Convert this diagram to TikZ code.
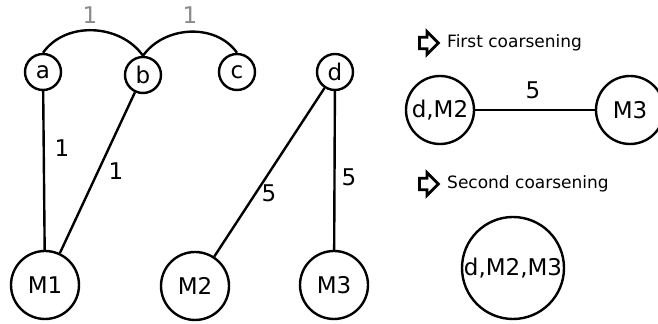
\documentclass[tikz,border=0pt]{standalone}
\usepackage{fontspec}
\setmainfont{DejaVu Sans}
\usetikzlibrary{positioning, shapes.arrows}
\definecolor{weightgray}{HTML}{8A8A8A}
\tikzset{
    vert/.style={draw, circle, line width=1.2pt, inner sep=0pt, minimum size=18pt, font=\fontsize{11.5}{13}\selectfont},
    bigvert/.style={vert, minimum size=34pt},
    hugevert/.style={vert, minimum size=51pt},
    wt/.style={font=\fontsize{11.5}{13}\selectfont},
    hollow arrow/.style={single arrow, draw, line width=1.4pt, inner sep=2.2pt, minimum height=9.5pt, single arrow head extend=2.8pt},
    step label/.style={anchor=west, inner sep=0pt, font=\fontsize{8.5}{10}\selectfont}
}

\begin{document}
\begin{tikzpicture}[x=0.5pt, y=-0.5pt, line width=1.2pt]
            \useasboundingbox (0,0) rectangle (658,324);
            %Nodes
            \node[vert] at (43,72) (a) {a};
            \node[vert] at (143,75) (b) {b};
            \node[vert] at (237,72) (c) {c};
            \node[vert] at (335,72) (d) {d};
            \node[bigvert] at (45,285) (M1) {M1};
            \node[bigvert] at (195,286) (M2) {M2};
            \node[bigvert] at (334,285) (M3) {M3};

            \node[hollow arrow] at (426,43) (firstarrow) {};
            \node[step label] at (446,43) (first) {First coarsening};
            \node[bigvert] at (440,110) (dM2) {d,M2};
            \node[bigvert] at (630,110) (M3b) {M3};
            \node[hollow arrow] at (426,184) (secondarrow) {};
            \node[step label] at (446,184) (second) {Second coarsening};
            \node[hugevert] at (513,268) (dM2M3) {d,M2,M3};

            %Weights
            \node[wt, text=weightgray] at (90,15) (wab) {1};
            \node[wt, text=weightgray] at (190,15) (wbc) {1};
            \node[wt] at (62,148) (waM1) {1};
            \node[wt] at (116,171) (wbM1) {1};
            \node[wt] at (269,193) (wdM2) {5};
            \node[wt] at (349,177) (wdM3) {5};
            \node[wt] at (533,90) (wfirst) {5};

            %Lines
            \draw (a.north) to[out=55, in=125] (b.north);
            \draw (b.north) to[out=55, in=125] (c.north);
            \draw (a) -- (M1);
            \draw (b) -- (M1);
            \draw (d) -- (M2);
            \draw (d) -- (M3);
            \draw (dM2) -- (M3b);
        \end{tikzpicture}
\end{document}
